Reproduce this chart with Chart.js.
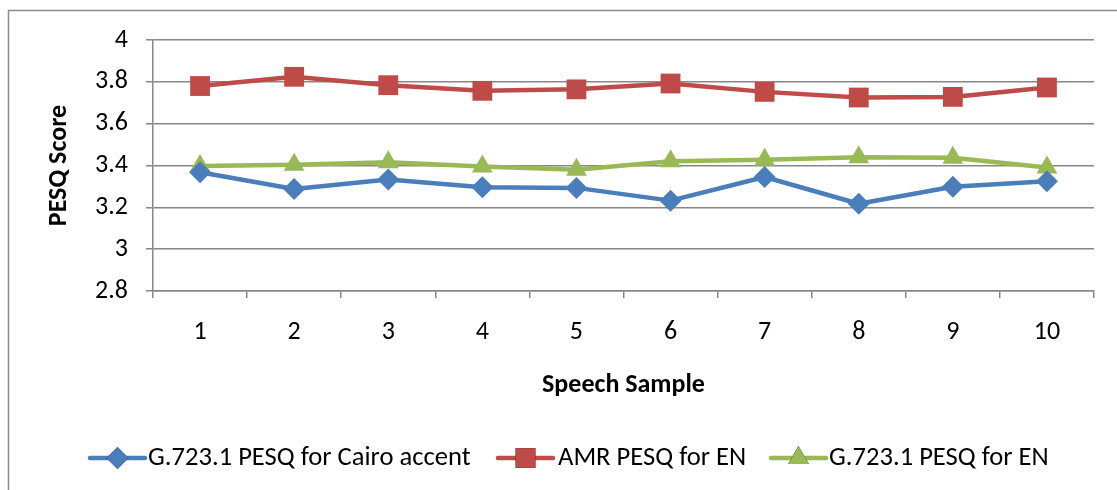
<!DOCTYPE html>
<html><head><meta charset="utf-8">
<script src="https://cdn.jsdelivr.net/npm/chart.js@4/dist/chart.umd.min.js"></script>
<style>html,body{margin:0;padding:0;background:#fff;}#wrap{width:1117px;height:490px;position:relative;}</style>
</head><body><div id="wrap"><canvas id="c" width="1117" height="490"></canvas></div>
<script>
const categories = ['1','2','3','4','5','6','7','8','9','10'];
const cairoG7231 = [3.368, 3.288, 3.333, 3.296, 3.293, 3.232, 3.345, 3.217, 3.298, 3.325];
const amrEN = [3.780, 3.824, 3.784, 3.757, 3.764, 3.792, 3.752, 3.725, 3.728, 3.773];
const g7231EN = [3.398, 3.403, 3.416, 3.395, 3.380, 3.420, 3.427, 3.440, 3.437, 3.390];
const seriesNames = ['G.723.1 PESQ for Cairo accent', 'AMR PESQ for EN', 'G.723.1 PESQ for EN'];
const yTicks = [2.8, 3, 3.2, 3.4, 3.6, 3.8, 4];

const FONT = 'Carlito, Lato, "Liberation Sans", sans-serif';
const GRID = '#878787';

const borderPlugin = {
  id: 'frame',
  beforeDraw(chart) {
    const ctx = chart.ctx;
    ctx.save();
    ctx.strokeStyle = '#8a8a8a';
    ctx.lineWidth = 1.5;
    ctx.beginPath();
    ctx.moveTo(8.5, 490);
    ctx.lineTo(8.5, 10.5);
    ctx.lineTo(1117, 10.5);
    ctx.stroke();
    ctx.restore();
  }
};

const legendPlugin = {
  id: 'xlLegend',
  afterDraw(chart) {
    const ctx = chart.ctx;
    const starts = [90, 498, 771];
    const textX = [148, 558, 829];
    const y = 458;
    ctx.save();
    chart.data.datasets.forEach((ds, i) => {
      const x0 = starts[i];
      ctx.strokeStyle = ds.borderColor;
      ctx.lineWidth = 4.5;
      ctx.lineCap = 'round';
      ctx.beginPath();
      ctx.moveTo(x0, y);
      ctx.lineTo(x0 + 55, y);
      ctx.stroke();
      Chart.helpers.drawPoint(ctx, {pointStyle: ds.pointStyle, radius: ds.pointRadius, rotation: 0, borderWidth: 0}, x0 + 27.5, y);
      ctx.fillStyle = ds.pointBackgroundColor;
      ctx.fill();
      ctx.fillStyle = '#000';
      ctx.font = '26.6px ' + FONT;
      ctx.textBaseline = 'middle';
      ctx.textAlign = 'left';
      ctx.fillText(ds.label, textX[i], y);
    });
    ctx.restore();
  }
};

function mk(label, data, color, style, r) {
  return {label, data, borderColor: color, backgroundColor: color, pointBackgroundColor: color,
    pointBorderColor: color, pointBorderWidth: 0, pointStyle: style, pointRadius: r, pointHoverRadius: r,
    borderWidth: 4.5, tension: 0, borderJoinStyle: 'round', borderCapStyle: 'round'};
}

new Chart(document.getElementById('c'), {
  type: 'line',
  data: {
    labels: categories,
    datasets: [
      mk(seriesNames[0], cairoG7231, '#4A7EBB', 'rectRot', 11),
      mk(seriesNames[1], amrEN, '#BE4B48', 'rect', 14),
      mk(seriesNames[2], g7231EN, '#98B954', 'triangle', 12)
    ]
  },
  options: {
    responsive: false,
    animation: false,
    devicePixelRatio: 1,
    layout: {padding: {left: 0, top: 40, right: 23, bottom: 69}},
    plugins: {legend: {display: false}, tooltip: {enabled: false}},
    scales: {
      x: {
        type: 'category',
        offset: true,
        grid: {display: true, drawOnChartArea: false, offset: true, tickLength: 7, color: GRID, lineWidth: 1.5},
        border: {display: true, color: GRID, width: 1.5},
        ticks: {color: '#000', font: {family: FONT, size: 26}, padding: 19, maxRotation: 0, autoSkip: false},
        title: {display: true, text: 'Speech Sample', color: '#000', font: {family: FONT, size: 26, weight: 'bold'}, padding: {top: 0, bottom: 20}},
        afterFit(s) { s.height = 130; }
      },
      y: {
        min: 2.8, max: 4,
        afterBuildTicks(s) { s.ticks = yTicks.map(v => ({value: v})); },
        grid: {color: GRID, lineWidth: 1.5, tickLength: 7},
        border: {display: true, color: GRID, width: 1.5},
        ticks: {color: '#000', font: {family: FONT, size: 26}, padding: 18,
          callback: v => String(Math.round(v * 10) / 10)},
        title: {display: true, text: 'PESQ Score', color: '#000', font: {family: FONT, size: 26, weight: 'bold'}, padding: {top: 44, bottom: 0}},
        afterFit(s) { s.width = 153; }
      }
    }
  },
  plugins: [borderPlugin, legendPlugin]
});
</script></body></html>
